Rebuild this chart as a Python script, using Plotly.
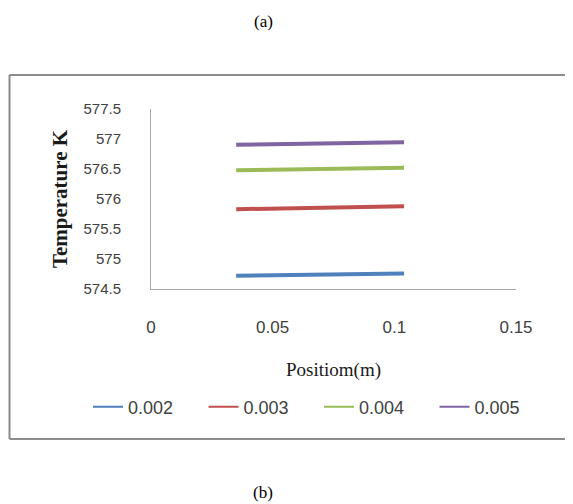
import plotly.graph_objects as go

# Data
position = [0.035, 0.104]
series_names = ["0.002", "0.003", "0.004", "0.005"]
temp_0002 = [574.72, 574.76]
temp_0003 = [575.83, 575.88]
temp_0004 = [576.48, 576.52]
temp_0005 = [576.905, 576.945]
colors = ["#4F81BD", "#C0504D", "#9BBB59", "#8064A2"]
y_ticks = [574.5, 575, 575.5, 576, 576.5, 577, 577.5]
y_tick_labels = ["574.5", "575", "575.5", "576", "576.5", "577", "577.5"]
x_ticks = [0, 0.05, 0.1, 0.15]
x_tick_labels = ["0", "0.05", "0.1", "0.15"]

OFF = 8  # page body margin
W, H = 573 - OFF, 504 - OFF
# plot area in screen px, converted to figure px
L, R, T, B = 151 - OFF, 516 - OFF, 109 - OFF, 289 - OFF


def px(xs):
    return (xs - OFF - L) / (R - L)


def py(ys):
    return (B - (ys - OFF)) / (B - T)


fig = go.Figure()
all_series = [temp_0002, temp_0003, temp_0004, temp_0005]
for name, vals, c in zip(series_names, all_series, colors):
    fig.add_trace(go.Scatter(x=position, y=vals, mode="lines", name=name,
                             line=dict(color=c, width=4), showlegend=False))
for name, c in zip(series_names, colors):
    fig.add_trace(go.Scatter(x=[None], y=[None], mode="lines", name=name,
                             line=dict(color=c, width=2)))

fig.update_layout(
    width=W, height=H,
    margin=dict(l=L, r=W - R, t=T, b=H - B),
    paper_bgcolor="white", plot_bgcolor="white",
    font=dict(family="Liberation Sans", color="#404040"),
    showlegend=True,
    legend=dict(orientation="h", x=px(88), xanchor="left", y=py(407), yanchor="middle",
                font=dict(size=18, family="Liberation Sans", color="#404040"),
                entrywidth=70.5, entrywidthmode="pixels", itemwidth=30,
                bgcolor="rgba(0,0,0,0)", tracegroupgap=0),
    xaxis=dict(range=[0, 0.15], tickvals=x_ticks, ticktext=x_tick_labels,
               showgrid=False, zeroline=False, showline=True, linecolor="#a6a6a6",
               linewidth=1, ticks="", ticklabelstandoff=23,
               tickfont=dict(size=17, family="Liberation Sans", color="#404040"),
               title=dict(text="Positiom(m)", standoff=26,
                          font=dict(family="Liberation Serif", size=19, color="#1a1a1a"))),
    yaxis=dict(range=[574.5, 577.5], tickvals=y_ticks, ticktext=y_tick_labels,
               showgrid=False, zeroline=False, showline=True, linecolor="#a6a6a6",
               linewidth=1, ticks="", ticklabelstandoff=26,
               tickfont=dict(size=15, family="Liberation Sans", color="#404040"),
               title=dict(text="<b>Temperature K</b>", standoff=10,
                          font=dict(family="Liberation Serif", size=21, color="#1a1a1a"))),
)

# outer chart border: top, left, bottom (right edge runs off the image)
border = dict(color="#8c8c8c", width=2)
x_left, x_right, y_top, y_bot = px(9.5), px(620), py(75), py(439)
for x0, y0, x1, y1 in [(x_left, y_top, x_right, y_top),
                       (x_left, y_top, x_left, y_bot),
                       (x_left, y_bot, x_right, y_bot)]:
    fig.add_shape(type="line", xref="paper", yref="paper", x0=x0, y0=y0, x1=x1, y1=y1,
                  line=border, layer="below")

fig.add_annotation(text="(a)", xref="paper", yref="paper", x=px(263), y=py(21),
                   xanchor="center", yanchor="middle", showarrow=False,
                   font=dict(family="Liberation Serif", size=17, color="black"))
fig.add_annotation(text="(b)", xref="paper", yref="paper", x=px(263), y=py(492),
                   xanchor="center", yanchor="middle", showarrow=False,
                   font=dict(family="Liberation Serif", size=17, color="black"))

fig.write_html("out.html")
